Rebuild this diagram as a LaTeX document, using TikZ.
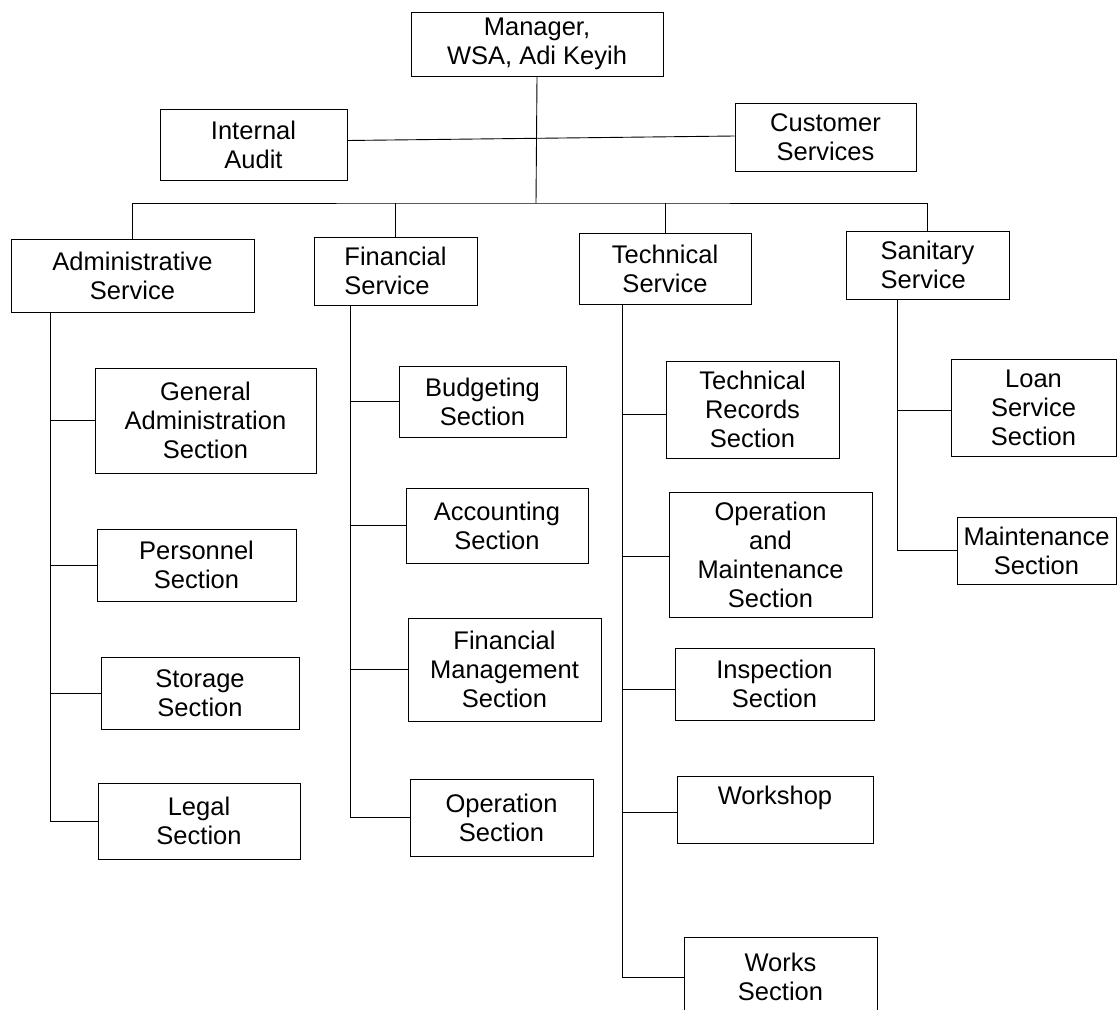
\documentclass[tikz,border=0pt]{standalone}
\usepackage{fontspec}
\setmainfont{Liberation Sans}
\newcommand\bx[7][]{\node[box,#1, minimum width={(#5-#3)*1pt}, minimum height={(#6-#4)*1pt}] (#2) at ({(#3+#5)/2*1pt},{-(#4+#6)/2*1pt}) {#7};}
\begin{document}
\begin{tikzpicture}[
  box/.style={draw, line width=1pt, inner sep=0pt, align=center,
    font=\fontsize{25.5pt}{29pt}\selectfont},
  conn/.style={line width=0.9pt}
]
\useasboundingbox (0,0) rectangle (1118pt,-1009pt);
\clip (0,0) rectangle (1118pt,-1009pt);
% top level
\bx{mgr}{411}{12}{663}{76}{Manager,\\WSA, Adi Keyih}
\bx{ia}{160}{109}{347}{180}{Internal\\Audit}
\bx{cs}{735}{103}{916}{171}{Customer\\Services}
% services
\bx{adm}{11}{239}{254}{312}{Administrative\\Service}
\bx[align=left]{fin}{314}{237}{477}{305}{Financial\\Service}
\bx{tech}{579}{233}{751}{304}{Technical\\Service}
\bx[align=left]{san}{846}{231}{1009}{299}{Sanitary\\Service}
% admin sections
\bx{gen}{95}{368}{316}{473}{General\\Administration\\Section}
\bx{pers}{97}{529}{296}{601}{Personnel\\Section}
\bx{stor}{101}{657}{299}{729}{Storage\\Section}
\bx{legal}{98}{783}{300}{859}{Legal\\Section}
% financial sections
\bx{bud}{399}{366}{566}{437}{Budgeting\\Section}
\bx{acc}{406}{488}{588}{563}{Accounting\\Section}
\bx{fm}{408}{618}{601}{721}{Financial\\Management\\Section}
\bx{ops}{410}{779}{593}{856}{Operation\\Section}
% technical sections
\bx{tr}{666}{361}{839}{458}{Technical\\Records\\Section}
\bx{om}{669}{492}{872}{617}{Operation\\and\\Maintenance\\Section}
\bx{insp}{675}{648}{874}{720}{Inspection\\Section}
\bx{wsh}{677}{776}{873}{843}{Workshop\\\mbox{}}
\bx{works}{684}{937}{877}{1017}{Works\\Section}
% sanitary sections
\bx{loan}{951}{359}{1116}{456}{Loan\\Service\\Section}
\bx{mnt}{957}{517}{1116}{584}{Maintenance\\Section}
% connectors
\coordinate (bus) at (536pt,-203pt);
\draw[conn] (mgr.south) -- (bus);
\draw[conn] ([yshift=4pt]ia.east) -- ([yshift=1pt]cs.west);
\draw[conn] (adm.north) |- (bus) -| (san.north);
\draw[conn] (fin.north) -- (fin.north |- bus);
\draw[conn] (tech.north) -- (tech.north |- bus);
% spines
\coordinate (admsp) at (50pt,-312pt);
\coordinate (finsp) at (350pt,-305pt);
\coordinate (techsp) at (622pt,-304pt);
\coordinate (sansp) at (897pt,-299pt);
\draw[conn] (admsp) |- (legal.west);
\foreach \b in {gen,pers,stor} \draw[conn] (admsp |- \b.west) -- (\b.west);
\draw[conn] (finsp) |- (ops.west);
\foreach \b in {bud,acc,fm} \draw[conn] (finsp |- \b.west) -- (\b.west);
\draw[conn] (techsp) |- (works.west);
\draw[conn] (techsp |- tr.west) ++(0,-5pt) -- ([yshift=-5pt]tr.west);
\draw[conn] (techsp |- om.west) ++(0,-2pt) -- ([yshift=-2pt]om.west);
\draw[conn] (techsp |- insp.west) ++(0,-5pt) -- ([yshift=-5pt]insp.west);
\draw[conn] (techsp |- wsh.west) ++(0,-3pt) -- ([yshift=-3pt]wsh.west);
\draw[conn] (sansp) |- (mnt.west);
\draw[conn] (sansp |- loan.west) ++(0,-3pt) -- ([yshift=-3pt]loan.west);
\end{tikzpicture}
\end{document}
